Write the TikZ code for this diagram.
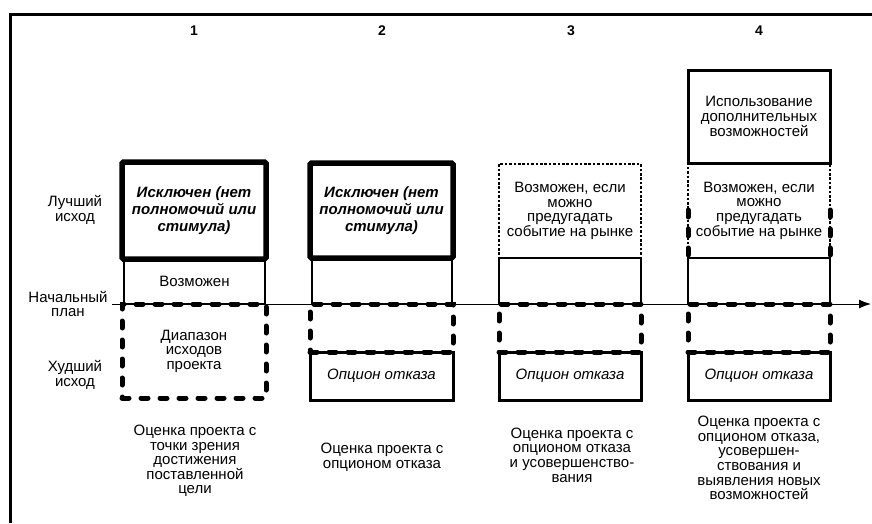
\documentclass[tikz,border=0pt]{standalone}
\usepackage{fontspec}
\setmainfont{Liberation Sans}
\usetikzlibrary{arrows.meta}

\begin{document}
\begin{tikzpicture}[x=1pt,y=-1pt]
	\tikzset{boxbase/.style={inner sep=0pt,outer sep=0pt,align=center},
		thickbox/.style={boxbase,draw,line width=5.5pt,rounded corners=1.5pt,font=\fontsize{15}{17}\selectfont\bfseries\itshape},
		thinbox/.style={boxbase,draw,line width=1.2pt},
		dotbox/.style={boxbase,draw,line width=1.2pt,dash pattern=on 2.6pt off 1.8pt},
		dashbox/.style={boxbase,draw,line width=5pt,line cap=round,dash pattern=on 7pt off 12pt},
		optbox/.style={boxbase,draw,line width=3pt,font=\fontsize{15}{15}\selectfont\itshape},
		topbox/.style={boxbase,draw,line width=3pt},
		lbl/.style={align=center,inner sep=0pt},
		num/.style={font=\fontsize{14}{14}\selectfont\bfseries,inner sep=0pt},
		every node/.append style={font=\fontsize{15}{14.6}\selectfont}
	}
	\useasboundingbox (0,0) rectangle (872,523);
	% frame
	\draw[line width=3pt] (872,14) -| (10,523);
	
	% column numbers
	\node [num] (n1) at (194,31) {1};
	\node [num] (n2) at (382,31) {2};
	\node [num] (n3) at (571,31) {3};
	\node [num] (n4) at (759,31) {4};
	
	% row labels
	\node [lbl] (best) at (75,210) {Лучший\\исход};
	\node [lbl] (plan) at (68,304) {Начальный\\план};
	\node [lbl] (worst) at (75,375) {Худший\\исход};
	
	% axis
	\coordinate (axstart) at (112,304);
	\coordinate (axend) at (871,304);
	\draw [line width=1pt,-{Latex[length=12pt,width=9pt]}] (axstart) -- (axend);
	
	% column 1
	\node [thinbox,minimum width=141,minimum height=45] (p1) at (194.5,281.5) {Возможен};
	\node [thickbox,minimum width=144,minimum height=97] (ex1) at (194,210.5) {Исключен (нет\\полномочий или\\стимула)};
	\node [dashbox,minimum width=144,minimum height=94] (r1) at (194,351) {Диапазон\\исходов\\проекта};
	
	% column 2
	\node [thinbox,minimum width=140,minimum height=46] (p2) at (382,281) {};
	\node [thickbox,minimum width=143,minimum height=95] (ex2) at (381.5,210.5) {Исключен (нет\\полномочий или\\стимула)};
	\node [optbox,minimum width=143,minimum height=48] (o2) at (381.5,376) {Опцион отказа};
	\node [dashbox,minimum width=143,minimum height=48] (r2) at (381.5,328) {};
	
	% column 3
	\node [thinbox,minimum width=142,minimum height=46] (p3) at (570,281) {};
	\node [dotbox,minimum width=142,minimum height=94] (m3) at (570,211) {Возможен, если\\можно\\предугадать\\событие на рынке};
	\node [optbox,minimum width=142,minimum height=48] (o3) at (570,376) {Опцион отказа};
	\node [dashbox,minimum width=142,minimum height=48] (r3) at (570,328) {};
	
	% column 4
	\node [thinbox,minimum width=142,minimum height=46] (p4) at (759,281) {};
	\node [dotbox,minimum width=142,minimum height=95] (m4) at (759,210.5) {Возможен, если\\можно\\предугадать\\событие на рынке};
	\node [topbox,minimum width=142,minimum height=93] (u4) at (759,116.5) {Использование\\дополнительных\\возможностей};
	\node [optbox,minimum width=142,minimum height=48] (o4) at (759,376) {Опцион отказа};
	\node [dashbox,minimum width=142,minimum height=48] (r4) at (759,328) {};
	\draw [line width=5pt,line cap=round,dash pattern=on 7pt off 12pt]
		([yshift=48pt]m4.south west) -- (m4.south west)
		([yshift=48pt]m4.south east) -- (m4.south east);
	
	% descriptions
	\node [lbl] (d1) at (195,461) {Оценка проекта с\\точки зрения\\достижения\\поставленной\\цели};
	\node [lbl] (d2) at (382,457) {Оценка проекта с\\опционом отказа};
	\node [lbl] (d3) at (572,455) {Оценка проекта с\\опционом отказа\\и усовершенство-\\вания};
	\node [lbl] (d4) at (759,458) {Оценка проекта с\\опционом отказа,\\усовершен-\\ствования и\\выявления новых\\возможностей};
\end{tikzpicture}
\end{document}
